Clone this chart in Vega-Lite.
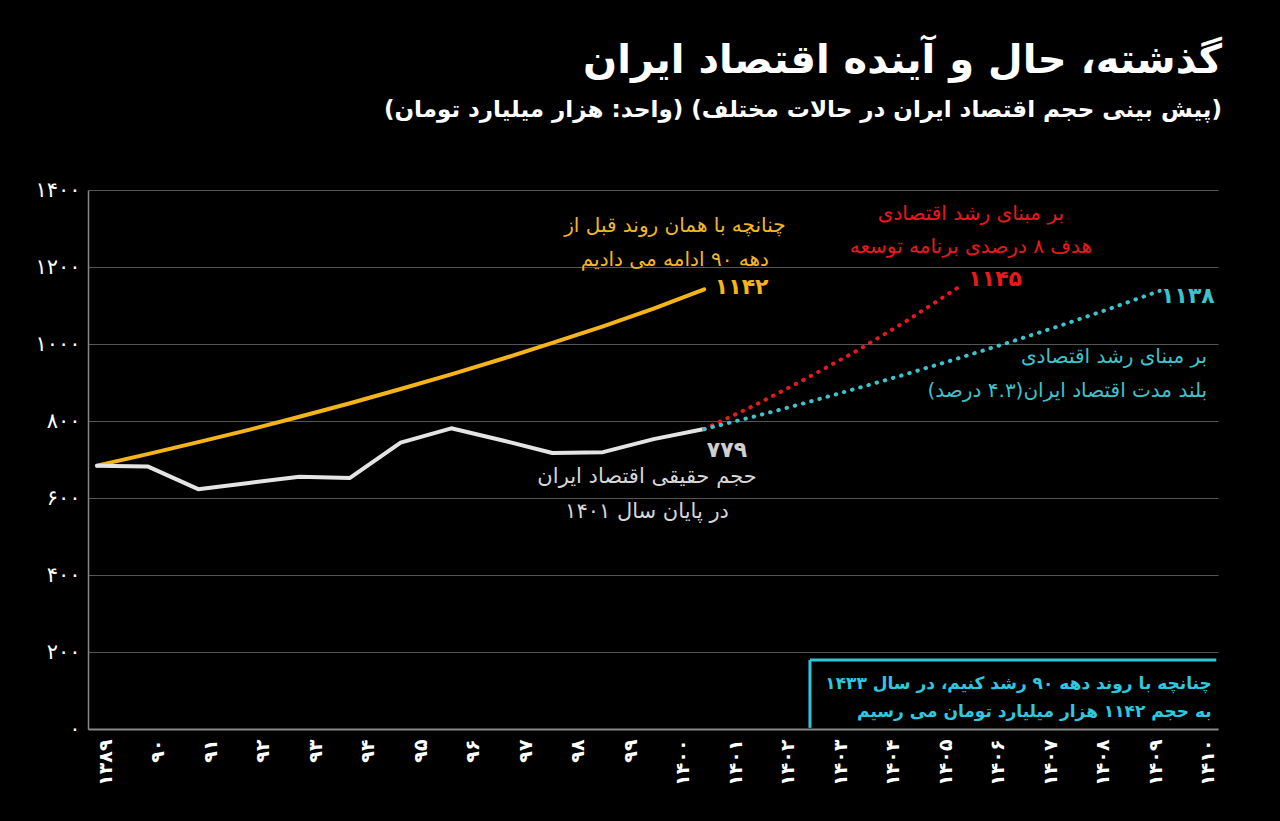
{
  "$schema": "https://vega.github.io/schema/vega-lite/v6.json",
  "width": 1130,
  "height": 539,
  "autosize": "none",
  "padding": {"left": 88, "top": 190, "right": 62, "bottom": 92},
  "background": "#000000",
  "config": {
    "view": {"stroke": null},
    "font": "DejaVu Sans",
    "axisY": {"title": null, "grid": true, "gridColor": "#555555", "gridWidth": 1, "domainColor": "#888888", "domainWidth": 1.5, "ticks": false, "labelColor": "#ffffff", "labelFontSize": 21, "labelPadding": 8, "labelFont": "DejaVu Sans"}
  },
  "title": {
    "text": "\u200fگذشته، حال و آینده اقتصاد ایران",
    "subtitle": "\u200f(پیش بینی حجم اقتصاد ایران در حالات مختلف)  (واحد: هزار میلیارد تومان)\u200f",
    "anchor": "end",
    "font": "DejaVu Sans",
    "fontSize": 40,
    "fontWeight": "bold",
    "color": "#ffffff",
    "subtitleFont": "DejaVu Sans",
    "subtitleFontSize": 23,
    "subtitleFontWeight": "bold",
    "subtitleColor": "#ffffff",
    "subtitlePadding": 18,
    "offset": 57,
    "dx": 4
  },
  "datasets": {
    "years": [
      {"year": 1389}, {"year": 1390}, {"year": 1391}, {"year": 1392}, {"year": 1393}, {"year": 1394}, {"year": 1395}, {"year": 1396}, {"year": 1397}, {"year": 1398}, {"year": 1399},
      {"year": 1400}, {"year": 1401}, {"year": 1402}, {"year": 1403}, {"year": 1404}, {"year": 1405}, {"year": 1406}, {"year": 1407}, {"year": 1408}, {"year": 1409}, {"year": 1410}
    ],
    "series": [
      {"series": "actual", "year": 1389, "value": 684},
      {"series": "actual", "year": 1390, "value": 682},
      {"series": "actual", "year": 1391, "value": 623},
      {"series": "actual", "year": 1392, "value": 639},
      {"series": "actual", "year": 1393, "value": 655},
      {"series": "actual", "year": 1394, "value": 652},
      {"series": "actual", "year": 1395, "value": 744},
      {"series": "actual", "year": 1396, "value": 781},
      {"series": "actual", "year": 1397, "value": 750},
      {"series": "actual", "year": 1398, "value": 717},
      {"series": "actual", "year": 1399, "value": 719},
      {"series": "actual", "year": 1400, "value": 753},
      {"series": "actual", "year": 1401, "value": 779},
      {"series": "trend", "year": 1389, "value": 684},
      {"series": "trend", "year": 1390, "value": 714},
      {"series": "trend", "year": 1391, "value": 745},
      {"series": "trend", "year": 1392, "value": 777},
      {"series": "trend", "year": 1393, "value": 811},
      {"series": "trend", "year": 1394, "value": 846},
      {"series": "trend", "year": 1395, "value": 883},
      {"series": "trend", "year": 1396, "value": 921},
      {"series": "trend", "year": 1397, "value": 961},
      {"series": "trend", "year": 1398, "value": 1003},
      {"series": "trend", "year": 1399, "value": 1046},
      {"series": "trend", "year": 1400, "value": 1092},
      {"series": "trend", "year": 1401, "value": 1142},
      {"series": "plan", "year": 1401, "value": 779},
      {"series": "plan", "year": 1402, "value": 841},
      {"series": "plan", "year": 1403, "value": 909},
      {"series": "plan", "year": 1404, "value": 981},
      {"series": "plan", "year": 1405, "value": 1060},
      {"series": "plan", "year": 1406, "value": 1145},
      {"series": "longrun", "year": 1401, "value": 779},
      {"series": "longrun", "year": 1402, "value": 812},
      {"series": "longrun", "year": 1403, "value": 847},
      {"series": "longrun", "year": 1404, "value": 884},
      {"series": "longrun", "year": 1405, "value": 922},
      {"series": "longrun", "year": 1406, "value": 962},
      {"series": "longrun", "year": 1407, "value": 1003},
      {"series": "longrun", "year": 1408, "value": 1046},
      {"series": "longrun", "year": 1409, "value": 1091},
      {"series": "longrun", "year": 1410, "value": 1138}
    ],
    "notes": [
      {"kind": "yellowNote", "year": 1400.42, "value": 1306, "text": "\u200fچنانچه با همان روند قبل از"},
      {"kind": "yellowNote", "year": 1400.42, "value": 1218, "text": "\u200fدهه ۹۰ ادامه می دادیم"},
      {"kind": "yellowNum", "year": 1401.21, "value": 1148, "text": "۱۱۴۲"},
      {"kind": "redNote", "year": 1406.27, "value": 1338, "text": "\u200fبر مبنای رشد اقتصادی"},
      {"kind": "redNote", "year": 1406.27, "value": 1252, "text": "\u200fهدف ۸ درصدی برنامه توسعه"},
      {"kind": "redNum", "year": 1406.75, "value": 1169, "text": "۱۱۴۵"},
      {"kind": "cyanNum", "year": 1410.56, "value": 1125, "text": "۱۱۳۸"},
      {"kind": "cyanNote", "year": 1410.94, "value": 966, "text": "\u200fبر مبنای رشد اقتصادی"},
      {"kind": "cyanNote", "year": 1410.94, "value": 878, "text": "\u200fبلند مدت اقتصاد ایران(۴.۳ درصد)\u200f"},
      {"kind": "grayNum", "year": 1401.45, "value": 725, "text": "۷۷۹"},
      {"kind": "grayNote", "year": 1399.87, "value": 655, "text": "\u200fحجم حقیقی اقتصاد ایران"},
      {"kind": "grayNote", "year": 1399.87, "value": 564, "text": "\u200fدر پایان سال ۱۴۰۱"},
      {"kind": "boxNote", "year": 1411.03, "value": 117, "text": "\u200fچنانچه با روند دهه ۹۰ رشد کنیم، در سال ۱۴۳۳"},
      {"kind": "boxNote", "year": 1411.03, "value": 44, "text": "\u200fبه حجم ۱۱۴۲ هزار میلیارد تومان می رسیم"}
    ],
    "box": [
      {"year": 1403.09, "year2": 1403.09, "value": 3, "value2": 179},
      {"year": 1403.09, "year2": 1411.12, "value": 179, "value2": 179}
    ]
  },
  "resolve": {"scale": {"x": "independent"}},
  "layer": [
    {
      "data": {"name": "years"},
      "mark": {"type": "rule", "opacity": 0},
      "encoding": {
        "x": {
          "field": "year", "type": "quantitative",
          "scale": {"domain": [1388.676, 1410.2], "nice": false, "zero": false},
          "axis": {
            "orient": "bottom", "title": null, "grid": false, "ticks": false,
            "values": [1389, 1390, 1391, 1392, 1393, 1394, 1395, 1396, 1397, 1398, 1399, 1400, 1401, 1402, 1403, 1404, 1405, 1406, 1407, 1408, 1409, 1410],
            "labelExpr": "['۱۳۸۹','۹۰','۹۱','۹۲','۹۳','۹۴','۹۵','۹۶','۹۷','۹۸','۹۹','۱۴۰۰','۱۴۰۱','۱۴۰۲','۱۴۰۳','۱۴۰۴','۱۴۰۵','۱۴۰۶','۱۴۰۷','۱۴۰۸','۱۴۰۹','۱۴۱۰'][datum.value - 1389]",
            "domainColor": "#888888", "domainWidth": 2,
            "labelAngle": 270, "labelColor": "#ffffff", "labelFontSize": 19, "labelFontWeight": "bold",
            "labelFont": "DejaVu Sans", "labelPadding": 10, "labelFlush": false, "labelOverlap": false
          }
        }
      }
    },
    {
      "encoding": {
        "x": {"field": "year", "type": "quantitative", "scale": {"domain": [1388.822, 1411.154], "nice": false, "zero": false}, "axis": null},
        "y": {"field": "value", "type": "quantitative", "scale": {"domain": [0, 1400], "nice": false},
          "axis": {"values": [0, 200, 400, 600, 800, 1000, 1200, 1400], "labelExpr": "['۰','۲۰۰','۴۰۰','۶۰۰','۸۰۰','۱۰۰۰','۱۲۰۰','۱۴۰۰'][datum.value / 200]"}}
      },
      "layer": [
        {
          "data": {"name": "series"},
          "transform": [{"filter": "datum.series === 'trend'"}],
          "mark": {"type": "line", "color": "#f4b41a", "strokeWidth": 4, "strokeCap": "round", "strokeJoin": "round"}
        },
        {
          "data": {"name": "series"},
          "transform": [{"filter": "datum.series === 'actual'"}],
          "mark": {"type": "line", "color": "#e4e4e4", "strokeWidth": 4, "strokeCap": "round", "strokeJoin": "round"}
        },
        {
          "data": {"name": "series"},
          "transform": [{"filter": "datum.series === 'plan'"}],
          "mark": {"type": "line", "color": "#e8191c", "strokeWidth": 4, "strokeCap": "round", "strokeDash": [0.5, 8]}
        },
        {
          "data": {"name": "series"},
          "transform": [{"filter": "datum.series === 'longrun'"}],
          "mark": {"type": "line", "color": "#3cc4cc", "strokeWidth": 4, "strokeCap": "round", "strokeDash": [0.5, 8]}
        },
        {
          "data": {"name": "box"},
          "mark": {"type": "rule", "color": "#2fc6dc", "strokeWidth": 3},
          "encoding": {"x2": {"field": "year2"}, "y2": {"field": "value2"}}
        },
        {
          "data": {"name": "notes"},
          "transform": [{"filter": "datum.kind === 'yellowNote'"}],
          "mark": {"type": "text", "font": "DejaVu Sans", "fontSize": 20, "color": "#f2b627", "align": "center", "baseline": "middle"},
          "encoding": {"text": {"field": "text"}}
        },
        {
          "data": {"name": "notes"},
          "transform": [{"filter": "datum.kind === 'yellowNum'"}],
          "mark": {"type": "text", "font": "DejaVu Sans", "fontSize": 22, "fontWeight": "bold", "color": "#f4b41a", "align": "left", "baseline": "middle"},
          "encoding": {"text": {"field": "text"}}
        },
        {
          "data": {"name": "notes"},
          "transform": [{"filter": "datum.kind === 'redNote'"}],
          "mark": {"type": "text", "font": "DejaVu Sans", "fontSize": 20, "color": "#e8191c", "align": "center", "baseline": "middle"},
          "encoding": {"text": {"field": "text"}}
        },
        {
          "data": {"name": "notes"},
          "transform": [{"filter": "datum.kind === 'redNum'"}],
          "mark": {"type": "text", "font": "DejaVu Sans", "fontSize": 22, "fontWeight": "bold", "color": "#e8191c", "align": "center", "baseline": "middle"},
          "encoding": {"text": {"field": "text"}}
        },
        {
          "data": {"name": "notes"},
          "transform": [{"filter": "datum.kind === 'cyanNum'"}],
          "mark": {"type": "text", "font": "DejaVu Sans", "fontSize": 22, "fontWeight": "bold", "color": "#3cc4cc", "align": "center", "baseline": "middle"},
          "encoding": {"text": {"field": "text"}}
        },
        {
          "data": {"name": "notes"},
          "transform": [{"filter": "datum.kind === 'cyanNote'"}],
          "mark": {"type": "text", "font": "DejaVu Sans", "fontSize": 20, "color": "#3cc4cc", "align": "right", "baseline": "middle"},
          "encoding": {"text": {"field": "text"}}
        },
        {
          "data": {"name": "notes"},
          "transform": [{"filter": "datum.kind === 'grayNum'"}],
          "mark": {"type": "text", "font": "DejaVu Sans", "fontSize": 22, "fontWeight": "bold", "color": "#cfcfcf", "align": "center", "baseline": "middle"},
          "encoding": {"text": {"field": "text"}}
        },
        {
          "data": {"name": "notes"},
          "transform": [{"filter": "datum.kind === 'grayNote'"}],
          "mark": {"type": "text", "font": "DejaVu Sans", "fontSize": 21, "color": "#d6d6d6", "align": "center", "baseline": "middle"},
          "encoding": {"text": {"field": "text"}}
        },
        {
          "data": {"name": "notes"},
          "transform": [{"filter": "datum.kind === 'boxNote'"}],
          "mark": {"type": "text", "font": "DejaVu Sans", "fontSize": 17, "fontWeight": "bold", "color": "#2ec9e0", "align": "right", "baseline": "middle"},
          "encoding": {"text": {"field": "text"}}
        }
      ]
    }
  ]
}
